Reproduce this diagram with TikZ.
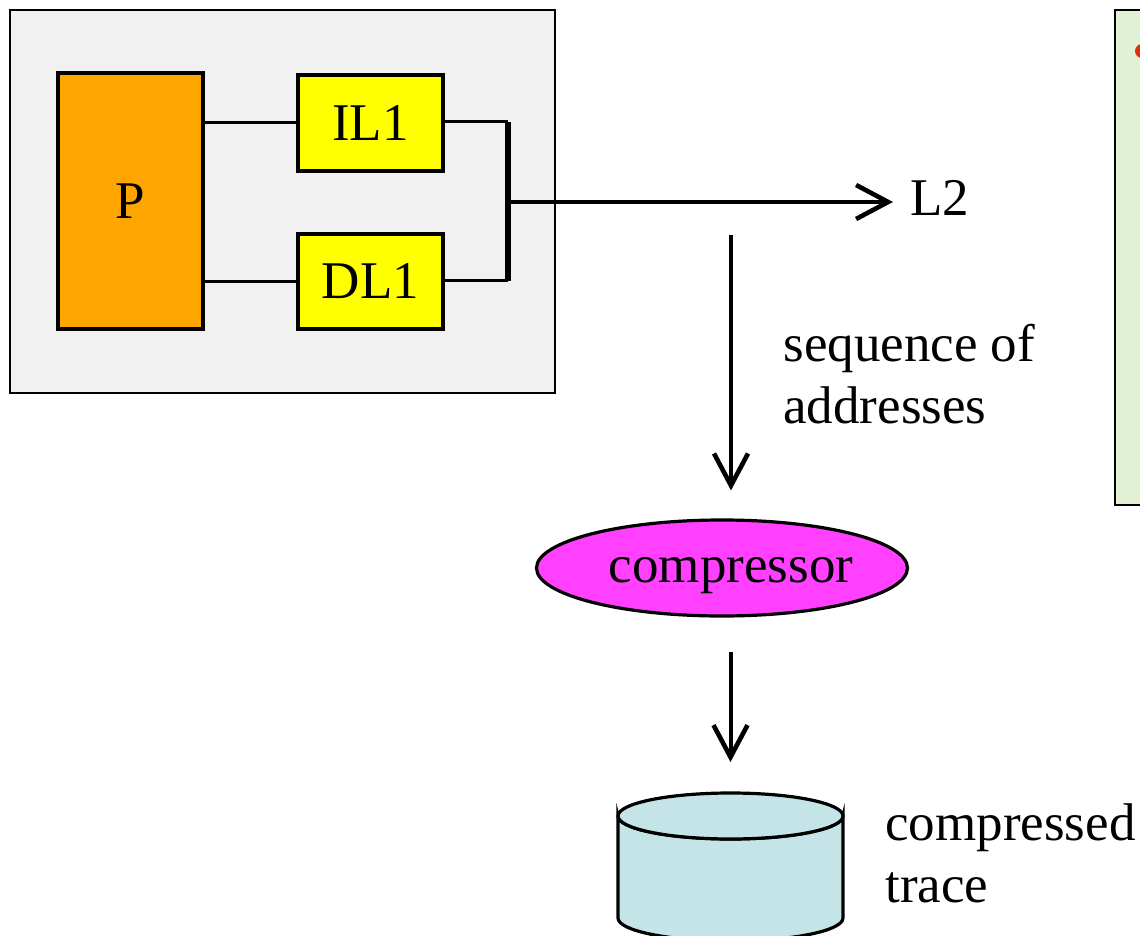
\documentclass[tikz,border=0pt]{standalone}
\usepackage{fontspec}
\setmainfont{Liberation Serif}
\usetikzlibrary{shapes.geometric,arrows.meta}
\definecolor{sysgray}{HTML}{F1F1F1}
\definecolor{porange}{HTML}{FFA500}
\definecolor{cyellow}{HTML}{FFFF00}
\definecolor{cmag}{HTML}{FF40FF}
\definecolor{cylblue}{HTML}{C5E4E8}
\definecolor{sidegreen}{HTML}{E2F0D3}
\definecolor{bulletred}{HTML}{E0300A}
\tikzset{
  txt/.style={font=\fontsize{26.5}{31}\selectfont},
  blk/.style={draw=black, line width=1.75pt, rectangle, inner sep=0pt, txt},
  wire/.style={line width=1.5pt},
  arr/.style={line width=2pt, -{Straight Barb[length=16pt,width=17pt,line width=2.3pt]}},
}
\begin{document}
\begin{tikzpicture}[x=0.5pt,y=-0.5pt]
\useasboundingbox (0,0) rectangle (1140,936);
\clip (0,0) rectangle (1140,936);
% side panel
\draw[fill=sidegreen, line width=1.2pt] (1115,10) rectangle (1170,505);
\fill[bulletred] (1142,51) circle[radius=7];
% system box
\node[blk, line width=1pt, fill=sysgray, minimum width=272.5pt, minimum height=191.5pt] (sys) at (282.5,201.5) {};
\node[blk, fill=porange, minimum width=72.5pt, minimum height=128pt] (P) at (130.5,201) {P};
\node[blk, fill=cyellow, minimum width=72.5pt, minimum height=48pt] (IL1) at (370.5,123) {IL1};
\node[blk, fill=cyellow, minimum width=72.5pt, minimum height=47.5pt] (DL1) at (370.5,281.5) {DL1};
\coordinate (jt) at (508,122);
\coordinate (jb) at (508,281);
\coordinate (J) at (508,202);
\draw[wire] (P.east |- IL1.west) -- (IL1.west);
\draw[wire] (P.east |- DL1.west) -- (DL1.west);
\draw[wire] (IL1.east |- jt) -- (jt);
\draw[wire] (DL1.east |- jb) -- (jb);
\draw[line width=2.6pt] (jt) -- (jb);
\node[txt, anchor=west, inner sep=0pt, inner xsep=8.5pt, text height=14pt, text depth=0pt] (L2) at (893,202) {L2};
\draw[arr, line width=2.2pt] (J) -- (L2.west);
% compressor
\node[txt, ellipse, draw=black, line width=1.6pt, fill=cmag, minimum width=184pt, minimum height=48pt, inner sep=0pt, text height=14pt, text depth=0pt] (comp) at (722,568) {\hspace{9pt}compressor};
\coordinate (a1) at (731,235);
\draw[arr, shorten >=14pt] (a1) -- (comp.north -| a1);
\node[txt, anchor=west, align=left, inner sep=0pt] (seq) at (783,374) {sequence of\\addresses};
% cylinder
\coordinate (cyl) at (730.5,816);
\draw[line width=1.6pt, fill=cylblue] (618,816) -- (618,918) arc[start angle=180, end angle=0, x radius=112.5, y radius=23] -- (843,816) arc[start angle=0, end angle=180, x radius=112.5, y radius=23] -- cycle;
\draw[line width=1.6pt, fill=cylblue] (cyl) ellipse[x radius=112.5, y radius=23];
\draw[arr, shorten <=17pt, shorten >=15.5pt] (comp.south -| cyl) -- ([yshift=11.5pt]cyl);
\node[txt, anchor=west, align=left, inner sep=0pt] (ct) at (885,853) {compressed\\trace};
\end{tikzpicture}
\end{document}
